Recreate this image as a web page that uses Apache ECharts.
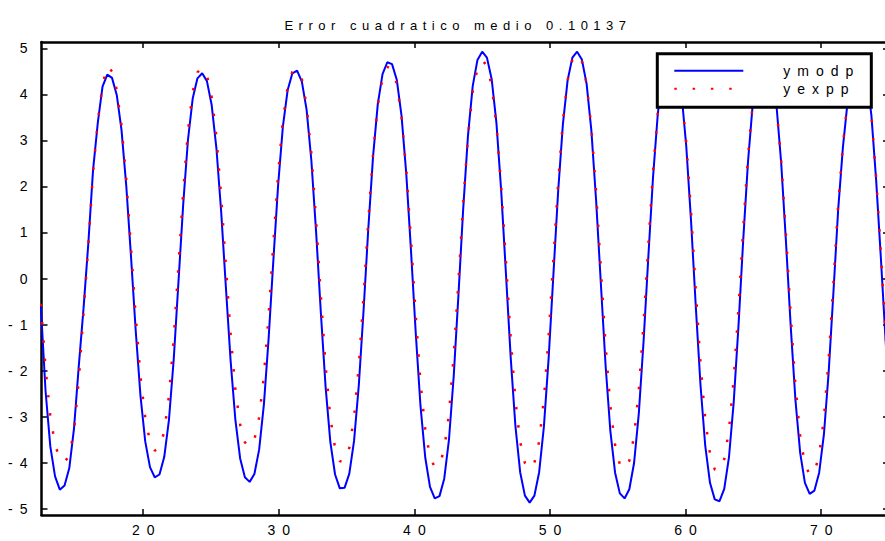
<!DOCTYPE html>
<html>
<head>
<meta charset="utf-8">
<script src="https://cdn.jsdelivr.net/npm/echarts@6/dist/echarts.min.js"></script>
<style>
  html, body { margin: 0; padding: 0; background: #fff; }
  #chart { width: 885px; height: 541px; }
  /* spaced-out lettering of the plot texts */
  #chart svg text { letter-spacing: 7px; }
  #chart svg text[style*="13px"] { letter-spacing: 5.5px; }
</style>
</head>
<body>
<div id="chart"></div>
<script>
// sample positions (time axis)
const xValues = [
  12.45,12.8,13.15,13.5,13.85,14.2,14.55,14.9,15.25,15.6,
  15.95,16.3,16.65,17,17.35,17.7,18.05,18.4,18.75,19.1,
  19.45,19.8,20.15,20.5,20.85,21.2,21.55,21.9,22.25,22.6,
  22.95,23.3,23.65,24,24.35,24.7,25.05,25.4,25.75,26.1,
  26.45,26.8,27.15,27.5,27.85,28.2,28.55,28.9,29.25,29.6,
  29.95,30.3,30.65,31,31.35,31.7,32.05,32.4,32.75,33.1,
  33.45,33.8,34.15,34.5,34.85,35.2,35.55,35.9,36.25,36.6,
  36.95,37.3,37.65,38,38.35,38.7,39.05,39.4,39.75,40.1,
  40.45,40.8,41.15,41.5,41.85,42.2,42.55,42.9,43.25,43.6,
  43.95,44.3,44.65,45,45.35,45.7,46.05,46.4,46.75,47.1,
  47.45,47.8,48.15,48.5,48.85,49.2,49.55,49.9,50.25,50.6,
  50.95,51.3,51.65,52,52.35,52.7,53.05,53.4,53.75,54.1,
  54.45,54.8,55.15,55.5,55.85,56.2,56.55,56.9,57.25,57.6,
  57.95,58.3,58.65,59,59.35,59.7,60.05,60.4,60.75,61.1,
  61.45,61.8,62.15,62.5,62.85,63.2,63.55,63.9,64.25,64.6,
  64.95,65.3,65.65,66,66.35,66.7,67.05,67.4,67.75,68.1,
  68.45,68.8,69.15,69.5,69.85,70.2,70.55,70.9,71.25,71.6,
  71.95,72.3,72.65,73,73.35,73.7,74.05,74.4,74.75,75.1
];

// model output
const ymodp = [
  -0.60,-2.45,-3.65,-4.30,-4.59,-4.50,-4.12,-3.25,-1.90,-0.65,
  0.75,2.35,3.38,4.17,4.43,4.36,3.99,3.23,2.02,0.48,
  -1.14,-2.55,-3.54,-4.10,-4.32,-4.26,-3.88,-3.07,-1.76,-0.08,
  1.61,3.01,3.91,4.35,4.46,4.29,3.77,2.83,1.45,-0.20,
  -1.80,-3.08,-3.91,-4.32,-4.42,-4.25,-3.72,-2.74,-1.30,0.40,
  2.03,3.30,4.09,4.46,4.52,4.28,3.67,2.57,1.02,-0.74,
  -2.35,-3.55,-4.26,-4.56,-4.55,-4.24,-3.53,-2.32,-0.70,1.08,
  2.65,3.79,4.44,4.70,4.66,4.32,3.54,2.28,0.60,-1.19,
  -2.77,-3.89,-4.53,-4.78,-4.73,-4.35,-3.50,-2.12,-0.35,1.52,
  3.10,4.18,4.75,4.93,4.80,4.33,3.38,1.91,0.11,-1.71,
  -3.21,-4.21,-4.72,-4.87,-4.72,-4.21,-3.22,-1.73,0.08,1.89,
  3.35,4.31,4.80,4.93,4.76,4.23,3.22,1.70,-0.11,-1.89,
  -3.31,-4.22,-4.67,-4.78,-4.58,-4.01,-2.93,-1.37,0.46,2.21,
  3.58,4.43,4.82,4.89,4.65,4.01,2.87,1.26,-0.60,-2.32,
  -3.64,-4.44,-4.80,-4.84,-4.57,-3.88,-2.68,-1.03,0.84,2.53,
  3.79,4.53,4.84,4.84,4.52,3.77,2.51,0.81,-1.03,-2.64,
  -3.79,-4.44,-4.68,-4.61,-4.22,-3.39,-2.04,-0.31,1.49,2.85,
  3.85,4.55,4.85,4.78,4.40,3.55,2.15,0.45,-1.35,-3.00
];

// experimental output
const yexpp = [
  -0.55,-1.95,-3.00,-3.60,-3.93,-3.99,-3.85,-3.30,-2.20,-0.75,
  0.70,2.30,3.40,4.20,4.62,4.50,4.10,3.32,2.15,0.67,
  -0.84,-2.13,-3.03,-3.54,-3.74,-3.69,-3.33,-2.55,-1.31,0.27,
  1.88,3.20,4.06,4.48,4.58,4.42,3.94,3.07,1.78,0.26,
  -1.23,-2.42,-3.18,-3.56,-3.66,-3.50,-3.02,-2.12,-0.80,0.77,
  2.27,3.43,4.16,4.49,4.55,4.33,3.75,2.72,1.27,-0.38,
  -1.90,-3.02,-3.69,-3.97,-3.97,-3.68,-3.02,-1.90,-0.39,1.25,
  2.70,3.76,4.36,4.60,4.55,4.23,3.52,2.36,0.83,-0.81,
  -2.26,-3.29,-3.88,-4.10,-4.06,-3.71,-2.94,-1.68,-0.06,1.64,
  3.08,4.06,4.57,4.74,4.63,4.19,3.33,2.00,0.37,-1.29,
  -2.65,-3.55,-4.01,-4.15,-4.01,-3.54,-2.63,-1.26,0.41,2.07,
  3.42,4.31,4.76,4.88,4.72,4.23,3.29,1.88,0.20,-1.46,
  -2.77,-3.62,-4.04,-4.14,-3.96,-3.43,-2.43,-0.98,0.71,2.33,
  3.60,4.38,4.75,4.81,4.59,4.00,2.94,1.45,-0.26,-1.85,
  -3.07,-3.81,-4.15,-4.18,-3.93,-3.29,-2.18,-0.65,1.08,2.64,
  3.81,4.50,4.79,4.78,4.48,3.76,2.56,0.95,-0.80,-2.33,
  -3.43,-4.04,-4.27,-4.21,-3.84,-3.04,-1.76,-0.11,1.60,2.90,
  3.88,4.55,4.80,4.72,4.35,3.55,2.20,0.55,-1.20,-2.60
];

const seriesNames = ['ymodp', 'yexpp'];
const titleText = 'Error cuadratico medio 0.10137';
const xTicks = [20, 30, 40, 50, 60, 70];
const yTicks = [-5, -4, -3, -2, -1, 0, 1, 2, 3, 4, 5];
const xRange = [12.5, 75];
const yRange = [-5.14, 5.14];

const FONT = '"Liberation Sans", Arial, sans-serif';

const chart = echarts.init(document.getElementById('chart'), null, {
  renderer: 'svg', width: 885, height: 541
});

const pairs = ys => xValues.map((x, i) => [x, ys[i]]);

function frameAxis(range, ticks, extra) {
  return Object.assign({
    type: 'value',
    min: range[0],
    max: range[1],
    axisLine: { show: true, onZero: false, lineStyle: { color: '#000', width: 2.5 } },
    splitLine: { show: false },
    axisTick: {
      show: true, inside: true, length: 6, customValues: ticks,
      lineStyle: { color: '#000', width: 1.5 }
    },
    axisLabel: { show: false }
  }, extra);
}

const labelStyle = { fontSize: 14, color: '#000', fontFamily: FONT };

chart.setOption({
  animation: false,
  backgroundColor: '#fff',
  title: {
    text: titleText,
    left: 453,
    top: 14,
    textAlign: 'center',
    textStyle: { fontSize: 13, fontWeight: 'normal', color: '#000', fontFamily: FONT }
  },
  grid: {
    left: 41.5, top: 42, width: 847.5, height: 473,
    containLabel: false, outerBoundsMode: 'none'
  },
  legend: {
    data: seriesNames,
    orient: 'vertical',
    left: 657.3,
    top: 53.7,
    padding: [10, 46, 11.5, 16],
    itemWidth: 69,
    itemHeight: 12,
    itemGap: 4,
    backgroundColor: '#fff',
    borderColor: '#000',
    borderWidth: 3,
    borderRadius: 0,
    z: 10,
    itemStyle: { opacity: 0, borderWidth: 0 },
    textStyle: Object.assign({ padding: [0, 0, 0, 35], lineHeight: 14 }, labelStyle)
  },
  xAxis: [
    frameAxis(xRange, xTicks, {
      position: 'bottom',
      axisLabel: Object.assign({
        show: true, customValues: xTicks, margin: 8, padding: [0, 0, 0, 7]
      }, labelStyle)
    }),
    frameAxis(xRange, xTicks, { position: 'top' })
  ],
  yAxis: [
    frameAxis(yRange, yTicks, {
      position: 'left',
      axisLabel: Object.assign({ show: true, customValues: yTicks, margin: 7 }, labelStyle)
    }),
    frameAxis(yRange, yTicks, { position: 'right' })
  ],
  series: [
    {
      type: 'line',
      name: seriesNames[0],
      data: pairs(ymodp),
      symbol: 'none',
      z: 2,
      lineStyle: { color: '#0000ff', width: 2 },
      itemStyle: { color: '#0000ff' }
    },
    {
      type: 'line',
      name: seriesNames[1],
      data: pairs(yexpp),
      symbol: 'none',
      z: 3,
      lineStyle: { color: '#ff0000', width: 2.5, type: [2.5, 15.8], cap: 'butt' },
      itemStyle: { color: '#ff0000' }
    }
  ]
});
</script>
</body>
</html>
